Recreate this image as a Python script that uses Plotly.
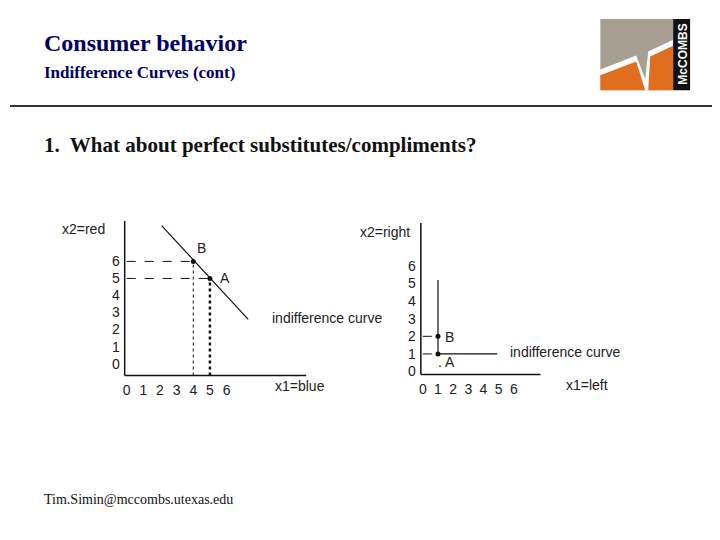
import plotly.graph_objects as go

W, H = 720, 540
OFF = 8  # page body margin

# ---- data: perfect substitutes (left) ----
subs_line_x = [2.1, 7.3]
subs_line_y = [8.1, 2.6]
subs_pts_x = [4, 5]
subs_pts_y = [6, 5]

# ---- data: perfect complements (right) ----
comp_vert_x = [1, 1]
comp_vert_y = [1, 5.2]
comp_horiz_x = [1, 4.9]
comp_horiz_y = [1, 1]
comp_pts_x = [1, 1]
comp_pts_y = [2, 1]

tick_vals = [0, 1, 2, 3, 4, 5, 6]

def px(x):
    return (x - OFF) / W

def py(y):
    return 1 - (y - OFF) / H

fig = go.Figure()
ink = "#111111"

# left chart
fig.add_trace(go.Scatter(x=subs_line_x, y=subs_line_y, mode="lines",
                         line=dict(color=ink, width=1.2), xaxis="x", yaxis="y"))
for xv, yv in zip(subs_pts_x, subs_pts_y):
    fig.add_trace(go.Scatter(x=[0, xv], y=[yv, yv], mode="lines",
                             line=dict(color=ink, width=1, dash="dash"), xaxis="x", yaxis="y"))
fig.add_trace(go.Scatter(x=[4, 4], y=[-0.7, 6], mode="lines",
                         line=dict(color=ink, width=1, dash="dot"), xaxis="x", yaxis="y"))
fig.add_trace(go.Scatter(x=[5, 5], y=[-0.7, 5], mode="lines",
                         line=dict(color=ink, width=2.5, dash="dot"), xaxis="x", yaxis="y"))
fig.add_trace(go.Scatter(x=subs_pts_x, y=subs_pts_y, mode="markers",
                         marker=dict(color=ink, size=5), xaxis="x", yaxis="y"))

# right chart
fig.add_trace(go.Scatter(x=comp_vert_x, y=comp_vert_y, mode="lines",
                         line=dict(color=ink, width=1.2), xaxis="x2", yaxis="y2"))
fig.add_trace(go.Scatter(x=comp_horiz_x, y=comp_horiz_y, mode="lines",
                         line=dict(color=ink, width=1.2), xaxis="x2", yaxis="y2"))
for yv in comp_pts_y:
    fig.add_trace(go.Scatter(x=[0, 1], y=[yv, yv], mode="lines",
                             line=dict(color=ink, width=1, dash="dash"), xaxis="x2", yaxis="y2"))
fig.add_trace(go.Scatter(x=comp_pts_x, y=comp_pts_y, mode="markers",
                         marker=dict(color=ink, size=5), xaxis="x2", yaxis="y2"))

tickfont = dict(family="Arial, Liberation Sans", size=14, color="#222")
axis_common = dict(showgrid=False, zeroline=False, ticks="", tickmode="array",
                   tickvals=tick_vals, tickfont=tickfont, showline=False,
                   ticklabelstandoff=4)

fig.update_layout(
    width=W, height=H, margin=dict(l=0, r=0, t=0, b=0),
    paper_bgcolor="white", plot_bgcolor="rgba(0,0,0,0)", showlegend=False,
    xaxis=dict(domain=[px(123), px(305)], range=[-0.12, 10.78], anchor="y", **axis_common),
    yaxis=dict(domain=[py(379), py(223)], range=[-0.7, 8.37], anchor="x", **axis_common),
    xaxis2=dict(domain=[px(420), px(540)], range=[-0.13, 7.76], anchor="y2", **axis_common),
    yaxis2=dict(domain=[py(378), py(225)], range=[-0.17, 8.43], anchor="x2", **axis_common),
)

shapes = []
# axis lines
shapes.append(dict(type="line", xref="paper", yref="paper", x0=px(123), x1=px(123), y0=py(223), y1=py(379), line=dict(color=ink, width=1.5)))
shapes.append(dict(type="line", xref="paper", yref="paper", x0=px(123), x1=px(305), y0=py(379), y1=py(379), line=dict(color=ink, width=1.5)))
shapes.append(dict(type="line", xref="paper", yref="paper", x0=px(420), x1=px(420), y0=py(225), y1=py(378), line=dict(color=ink, width=1.5)))
shapes.append(dict(type="line", xref="paper", yref="paper", x0=px(420), x1=px(540), y0=py(378), y1=py(378), line=dict(color=ink, width=1.5)))
# header rule
shapes.append(dict(type="line", xref="paper", yref="paper", x0=0, x1=1, y0=py(107), y1=py(107), line=dict(color="#333", width=2)))

# logo
def path(pts):
    return "M " + " L ".join(f"{px(a):.4f},{py(b):.4f}" for a, b in pts) + " Z"

shapes.append(dict(type="rect", xref="paper", yref="paper", x0=px(600), x1=px(673), y0=py(91), y1=py(19), fillcolor="#a89f93", line=dict(width=0)))
shapes.append(dict(type="path", xref="paper", yref="paper", path=path([(600, 70), (636, 56), (645, 80), (648, 52), (673, 40), (673, 91), (600, 91)]), fillcolor="white", line=dict(width=0)))
shapes.append(dict(type="path", xref="paper", yref="paper", path=path([(600, 76), (636, 62), (645, 91), (600, 91)]), fillcolor="#df6e1f", line=dict(width=0)))
shapes.append(dict(type="path", xref="paper", yref="paper", path=path([(650, 57), (673, 46), (673, 91), (648, 91)]), fillcolor="#df6e1f", line=dict(width=0)))
shapes.append(dict(type="rect", xref="paper", yref="paper", x0=px(673), x1=px(690), y0=py(91), y1=py(19), fillcolor="#111", line=dict(width=0)))
fig.update_layout(shapes=shapes)

serif = "Times New Roman, Liberation Serif, serif"
sans = "Arial, Liberation Sans, sans-serif"

def note(x, y, text, size=14, family=sans, color="#222", xanchor="left", **kw):
    fig.add_annotation(x=px(x), y=py(y), xref="paper", yref="paper", text=text,
                       showarrow=False, xanchor=xanchor, yanchor="middle",
                       font=dict(size=size, family=family, color=color), **kw)

note(40, 43, "<b>Consumer behavior</b>", size=24, family=serif, color="#000066")
note(40, 73, "<b>Indifference Curves (cont)</b>", size=17, family=serif, color="#000066")
note(40, 146, "<b>1.  What about perfect substitutes/compliments?</b>", size=21, family=serif, color="#111")
note(40, 504, "Tim.Simin@mccombs.utexas.edu", size=14, family=serif, color="#111")
note(682, 55, "<b>McCOMBS</b>", size=12, color="white", xanchor="center", textangle=-90)

# left chart labels
note(58, 231, "x2=red")
note(194, 250, "B")
note(217, 281, "A")
note(269, 321, "indifference curve")
note(272, 390, "x1=blue")
# right chart labels
note(357, 234, "x2=right")
note(442, 340, "B")
note(435, 365, ". A")
note(507, 355, "indifference curve")
note(564, 389, "x1=left")

fig.write_html("out.html")
